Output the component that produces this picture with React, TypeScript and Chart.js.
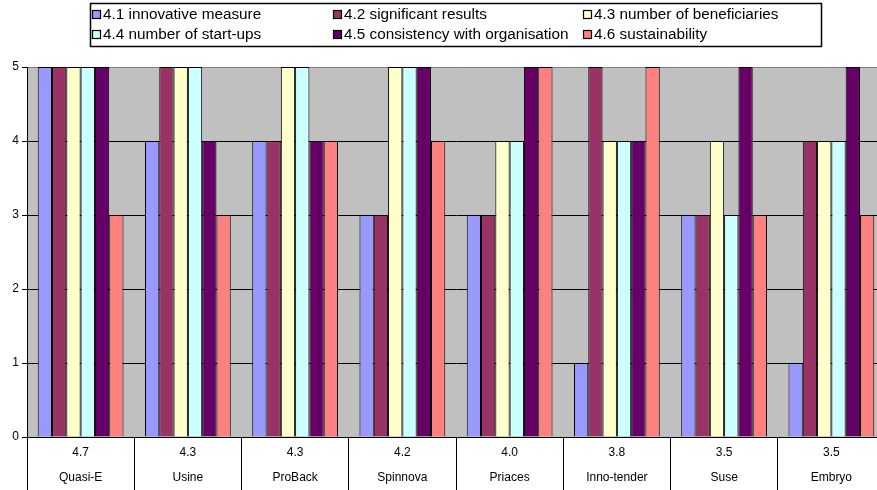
import React, { useEffect, useRef } from "react";
import { Chart, registerables } from "chart.js";

Chart.register(...registerables);

// Projects on the category axis, with their average score shown above each name
const projects = ["Quasi-E", "Usine", "ProBack", "Spinnova", "Priaces", "Inno-tender", "Suse", "Embryo"];
const averageScores = ["4.7", "4.3", "4.3", "4.2", "4.0", "3.8", "3.5", "3.5"];

// Criteria scores per project
const criteriaNames = [
  "4.1 innovative measure",
  "4.2 significant results",
  "4.3 number of beneficiaries",
  "4.4 number of start-ups",
  "4.5 consistency with organisation",
  "4.6 sustainability",
];
const innovativeMeasure = [5, 4, 4, 3, 3, 1, 3, 1];
const significantResults = [5, 5, 4, 3, 3, 5, 3, 4];
const numberOfBeneficiaries = [5, 5, 5, 5, 4, 4, 4, 4];
const numberOfStartUps = [5, 5, 5, 5, 4, 4, 3, 4];
const consistencyWithOrganisation = [5, 4, 4, 5, 5, 4, 5, 5];
const sustainability = [3, 3, 4, 4, 5, 5, 3, 3];

const yTicks = [0, 1, 2, 3, 4, 5];

const seriesColors = ["#9999FF", "#993366", "#FFFFCC", "#CCFFFF", "#660066", "#FF8080"];
const FONT = "'Liberation Sans', Arial, sans-serif";

// Gray plot-area fill
const plotBackground = {
  id: "plotBackground",
  beforeDraw(chart: any) {
    const { ctx, chartArea } = chart;
    ctx.save();
    ctx.fillStyle = "#C0C0C0";
    ctx.fillRect(chartArea.left, chartArea.top, chartArea.right - chartArea.left, chartArea.bottom - chartArea.top);
    ctx.restore();
  },
};

// Boxed legend laid out in three aligned columns
const legendColumns = [92, 333, 583];
const boxedLegend = {
  id: "boxedLegend",
  afterDraw(chart: any) {
    const ctx = chart.ctx;
    ctx.save();
    ctx.strokeStyle = "#000";
    ctx.lineWidth = 1.5;
    ctx.strokeRect(90.5, 3.5, 731, 43);
    ctx.font = `15.3px ${FONT}`;
    ctx.textBaseline = "middle";
    ctx.textAlign = "left";
    chart.data.datasets.forEach((ds: any, i: number) => {
      const x = legendColumns[i % 3];
      const y = 14 + Math.floor(i / 3) * 20;
      ctx.fillStyle = ds.backgroundColor;
      ctx.fillRect(x, y - 4, 9, 9);
      ctx.lineWidth = 1.2;
      ctx.strokeStyle = "#000";
      ctx.strokeRect(x + 0.5, y - 3.5, 8, 8);
      ctx.fillStyle = "#000";
      ctx.fillText(ds.label, x + 11, y + 1);
    });
    ctx.restore();
  },
};

export default function App() {
  const canvasRef = useRef<HTMLCanvasElement | null>(null);

  useEffect(() => {
    if (!canvasRef.current) return;
    const series = [
      innovativeMeasure,
      significantResults,
      numberOfBeneficiaries,
      numberOfStartUps,
      consistencyWithOrganisation,
      sustainability,
    ];
    const chart = new Chart(canvasRef.current, {
      type: "bar",
      data: {
        labels: projects.map((p, i) => [averageScores[i], p]),
        datasets: series.map((values, i) => ({
          label: criteriaNames[i],
          data: values,
          backgroundColor: seriesColors[i],
          borderColor: "#000",
          borderWidth: 1,
          categoryPercentage: 0.8,
          barPercentage: 1,
        })),
      },
      options: {
        responsive: false,
        animation: false,
        layout: { padding: { top: 67, left: 0, right: 0, bottom: 0 } },
        plugins: {
          legend: { display: false },
          tooltip: { enabled: false },
        },
        scales: {
          x: {
            grid: {
              drawOnChartArea: false,
              color: "#000",
              tickLength: 53,
              offset: true,
            },
            border: { color: "#000", width: 1 },
            ticks: {
              color: "#000",
              font: { family: FONT, size: 12, lineHeight: "25px" },
              padding: -50,
              maxRotation: 0,
              autoSkip: false,
            },
            afterFit(scale: any) {
              scale.height = 53;
            },
          },
          y: {
            min: 0,
            max: 5,
            afterBuildTicks(scale: any) {
              scale.ticks = yTicks.map((v) => ({ value: v }));
            },
            grid: {
              color: (c: any) => (c.tick && c.tick.value === 5 ? "#808080" : "#000"),
              tickColor: "#000",
              tickLength: 5,
            },
            border: { color: "#000", width: 1 },
            ticks: {
              color: "#000",
              font: { family: FONT, size: 12 },
              padding: 3,
            },
            afterFit(scale: any) {
              scale.width = 27;
            },
          },
        },
      } as any,
      plugins: [plotBackground, boxedLegend],
    });
    return () => chart.destroy();
  }, []);

  return (
    <div style={{ position: "fixed", left: 0, top: 0, width: 877, height: 490, overflow: "hidden", background: "#fff" }}>
      <canvas ref={canvasRef} width={885} height={490} style={{ display: "block" }} />
    </div>
  );
}
